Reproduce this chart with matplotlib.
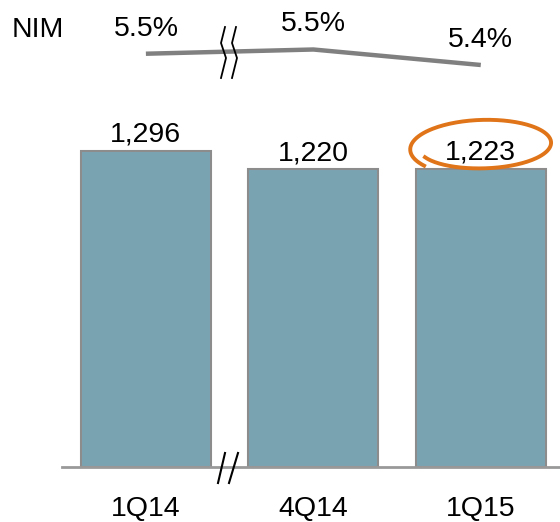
import numpy as np
import matplotlib
matplotlib.use("Agg")
import matplotlib.pyplot as plt

categories = ["1Q14", "4Q14", "1Q15"]
values = [1296, 1220, 1223]
value_labels = ["1,296", "1,220", "1,223"]
nim = [5.48, 5.51, 5.40]
nim_labels = ["5.5%", "5.5%", "5.4%"]

W, H = 560, 522
fig = plt.figure(figsize=(W / 100, H / 100), dpi=100)
plt.rcParams['font.family'] = ['Liberation Sans', 'DejaVu Sans']
FS = 20.5

def fx(px):
    return px / W

def fy(py):
    return 1 - py / H

# main bar axes
ax = fig.add_axes([fx(62), fy(467), fx(560) - fx(62), fy(100) - fy(467)])
x = np.arange(len(categories))
ax.bar(x, values, width=0.776, color="#7AA3B2", edgecolor="#8C8C8C", linewidth=1.5, zorder=2)
ax.set_xlim(-0.501, 2.473)
ax.set_ylim(0, 1505)
for s in ["top", "right", "left"]:
    ax.spines[s].set_visible(False)
ax.spines["bottom"].set_color("#999999")
ax.spines["bottom"].set_linewidth(2)
ax.set_yticks([])
ax.set_xticks([])
for xi, cat in zip(x, categories):
    ax.annotate(cat, (xi, 0), xytext=(0, -49), textcoords="offset pixels",
                ha="center", va="baseline", fontsize=FS, annotation_clip=False)
for xi, v, lab in zip(x, values, value_labels):
    ax.annotate(lab, (xi, v), xytext=(0, 9), textcoords="offset pixels",
                ha="center", va="baseline", fontsize=FS)

# NIM line axes
ax2 = fig.add_axes([fx(62), fy(100), fx(560) - fx(62), fy(0) - fy(100)])
ax2.set_xlim(-0.501, 2.473)
ax2.set_ylim(5.1516, 5.8613)
ax2.axis("off")
ax2.plot(x, nim, color="#808080", linewidth=3.2, solid_capstyle="butt")
for xi, v, lab in zip(x, nim, nim_labels):
    ax2.annotate(lab, (xi, v), xytext=(0, 18), textcoords="offset pixels",
                 ha="center", va="baseline", fontsize=FS)
fig.text(fx(12), fy(37), "NIM", fontsize=FS, ha="left", va="baseline")

# break markers (pixel-space decorations)
def px_line(xs, ys, **kw):
    fig.add_artist(plt.Line2D([fx(a) for a in xs], [fy(b) for b in ys],
                              transform=fig.transFigure, **kw))

for x0 in (221, 232):
    px_line([x0 + 4, x0, x0 + 5, x0], [27, 43, 58, 78], color="black", linewidth=1.3)
px_line([218, 225], [483, 453], color="black", linewidth=1.5)
px_line([229, 238], [483, 453], color="black", linewidth=1.5)

# orange hand-drawn ellipse around 1,223
t = np.linspace(np.deg2rad(205), np.deg2rad(205 + 372), 200)
rx = 64 + 1.5 * (t - t[0])
ry = 21 + 1.2 * (t - t[0])
cx, cy = 483, 146
ex = cx + rx * np.cos(t)
ey = cy - ry * np.sin(t) - 0.04 * (rx * np.cos(t))
px_line(ex, ey, color="#E07418", linewidth=2.8)

fig.savefig("out.png", dpi=100)
